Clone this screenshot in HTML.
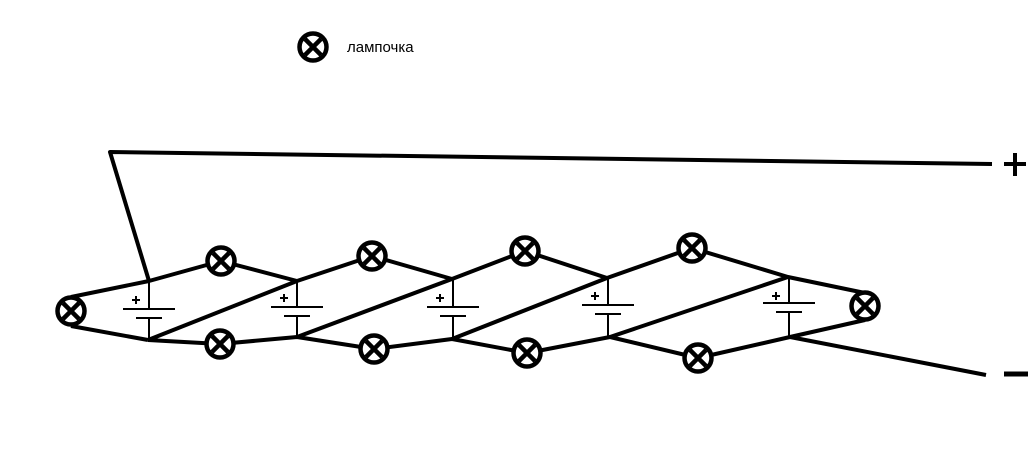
<!DOCTYPE html>
<html><head><meta charset="utf-8"><style>body{margin:0;background:#fff}svg{display:block}</style></head><body>
<svg width="1034" height="468" viewBox="0 0 1034 468" xmlns="http://www.w3.org/2000/svg">
<defs>
<g id="L"><circle r="13.5" fill="#fff" stroke="#000" stroke-width="4.5"/><path d="M-8,-8L8,8M8,-8L-8,8" stroke="#000" stroke-width="4.5"/></g>
</defs>
<g stroke="#000" stroke-width="4" fill="none" stroke-linejoin="round">
<polyline points="149,281 110,152 992,164"/>
<polyline points="790,337 986,375"/>
<polyline points="149,281 71,297"/><polyline points="148,340 71,326"/>
<polyline points="149,281 221,261 297,281 372,256 452,279 525,251 607,278 692,248 788,277 865,293"/>
<polyline points="148,340 220,344 297,337 374,349 452,339 527,353 610,337 698,358 790,337 865,320"/>
<line x1="148" y1="340" x2="297" y2="281"/>
<line x1="297" y1="337" x2="452" y2="279"/>
<line x1="452" y1="339" x2="607" y2="278"/>
<line x1="610" y1="337" x2="788" y2="277"/>
</g>
<g stroke="#000" stroke-width="2">
<g transform="translate(149,0)"><line x1="0" y1="281" x2="0" y2="309"/><line x1="-26" y1="309" x2="26" y2="309"/><line x1="-13" y1="318" x2="13" y2="318"/><line x1="0" y1="318" x2="0" y2="340"/><line x1="-17" y1="300" x2="-9" y2="300"/><line x1="-13" y1="296" x2="-13" y2="304"/></g>
<g transform="translate(297,0)"><line x1="0" y1="281" x2="0" y2="307"/><line x1="-26" y1="307" x2="26" y2="307"/><line x1="-13" y1="316" x2="13" y2="316"/><line x1="0" y1="316" x2="0" y2="337"/><line x1="-17" y1="298" x2="-9" y2="298"/><line x1="-13" y1="294" x2="-13" y2="302"/></g>
<g transform="translate(453,0)"><line x1="0" y1="279" x2="0" y2="307"/><line x1="-26" y1="307" x2="26" y2="307"/><line x1="-13" y1="316" x2="13" y2="316"/><line x1="0" y1="316" x2="0" y2="339"/><line x1="-17" y1="298" x2="-9" y2="298"/><line x1="-13" y1="294" x2="-13" y2="302"/></g>
<g transform="translate(608,0)"><line x1="0" y1="278" x2="0" y2="305"/><line x1="-26" y1="305" x2="26" y2="305"/><line x1="-13" y1="314" x2="13" y2="314"/><line x1="0" y1="314" x2="0" y2="337"/><line x1="-17" y1="296" x2="-9" y2="296"/><line x1="-13" y1="292" x2="-13" y2="300"/></g>
<g transform="translate(789,0)"><line x1="0" y1="277" x2="0" y2="303"/><line x1="-26" y1="303" x2="26" y2="303"/><line x1="-13" y1="312" x2="13" y2="312"/><line x1="0" y1="312" x2="0" y2="337"/><line x1="-17" y1="296" x2="-9" y2="296"/><line x1="-13" y1="292" x2="-13" y2="300"/></g>
</g>
<use href="#L" x="71" y="311"/><use href="#L" x="865" y="306"/>
<use href="#L" x="221" y="261"/><use href="#L" x="372" y="256"/><use href="#L" x="525" y="251"/><use href="#L" x="692" y="248"/>
<use href="#L" x="220" y="344"/><use href="#L" x="374" y="349"/><use href="#L" x="527" y="353"/><use href="#L" x="698" y="358"/>
<use href="#L" x="313" y="47"/>
<text x="347" y="52" font-family="Liberation Sans, DejaVu Sans, sans-serif" font-size="15" fill="#000">лампочка</text>
<g stroke="#000" stroke-width="4"><line x1="1004" y1="164" x2="1026" y2="164"/><line x1="1015" y1="153" x2="1015" y2="176"/><line x1="1004" y1="374" x2="1028" y2="374" stroke-width="5"/></g>
</svg>
</body></html>
